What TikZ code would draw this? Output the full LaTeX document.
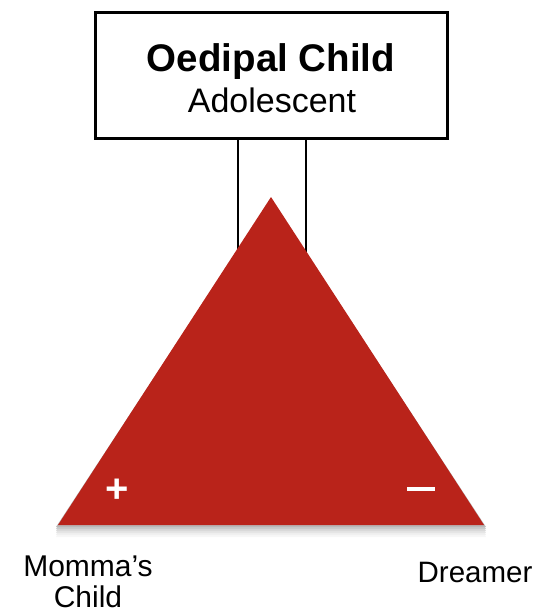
\documentclass[tikz,border=0pt]{standalone}
\usepackage{fontspec}
\setmainfont{Liberation Sans}
\usepackage{tikz}
\usetikzlibrary{positioning, calc}
\definecolor{oedipusred}{RGB}{185,35,26}

\begin{document}
\begin{tikzpicture}[
    x=1pt, y=-1pt,
    stage/.style={rectangle, draw, line width=3pt, minimum width=352pt, minimum height=126pt, align=center, inner sep=0pt},
    tie/.style={line width=2.8pt},
    pole/.style={text=white, font=\fontsize{40}{40}\selectfont\bfseries, inner sep=0pt},
    tag/.style={font=\fontsize{30}{34}\selectfont, inner sep=0pt}
]
\useasboundingbox (0,0) rectangle (537,613);

\node[stage] (child) at (271,75) {};
\node[anchor=base, font=\fontsize{38.5}{38}\selectfont\bfseries] (title) at (271,71) {Oedipal Child};
\node[anchor=base, font=\fontsize{34}{34}\selectfont] (sub) at (272,112) {Adolescent};

% triangle corners
\coordinate (apex) at (271,197);
\coordinate (left) at (58,525);
\coordinate (right) at (484,525);
\coordinate (tieL) at (238,300);
\coordinate (tieR) at (306,300);

\draw[tie] (child.south -| tieL) -- (tieL);
\draw[tie] (child.south -| tieR) -- (tieR);

% soft shadow under the triangle
\foreach \s/\g in {12/3, 10/6, 8/10, 6/15, 4/21, 2/28}
  \fill[black!\g] ($(apex)+(0,\s)$) -- ($(left)+(-2,\s)$) -- ($(right)+(2,\s)$) -- cycle;
\fill[oedipusred] (apex) -- (left) -- (right) -- cycle;

\node[pole] (plus) at (117,491) {+};
\node[pole] (minus) at (421,489) {\rule{28pt}{4pt}};

\node[tag, anchor=base] (momma) at (88,576) {Momma’s};
\node[tag, anchor=base] (mchild) at (88,607) {Child};
\node[tag, anchor=base, font=\fontsize{29.5}{34}\selectfont] (dreamer) at (475,582) {Dreamer};

\end{tikzpicture}
\end{document}
